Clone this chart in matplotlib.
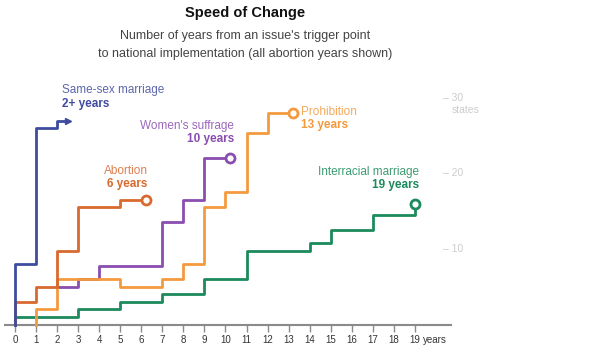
import matplotlib.pyplot as plt

# years since trigger point -> number of states
same_sex_years = [0, 0, 1, 2, 2.5]
same_sex_states = [0, 8, 26, 27, 27]

abortion_years = [0, 0, 1, 2, 3, 5, 6]
abortion_states = [0, 3, 5, 9.7, 15.6, 16.5, 16.5]

prohibition_years = [1, 1, 2, 5, 7, 8, 9, 10, 11, 12, 13]
prohibition_states = [0, 2, 6, 5, 6, 8, 15.5, 17.5, 25.3, 28, 28]

suffrage_years = [2, 3, 4, 7, 8, 9, 10]
suffrage_states = [5, 6, 7.7, 13.6, 16.5, 22, 22]

interracial_years = [0, 0, 3, 5, 7, 9, 11, 14, 15, 17, 19, 19]
interracial_states = [0, 1, 2, 3, 4, 6, 9.7, 10.8, 12.5, 14.5, 14.5, 16]

year_ticks = list(range(20))
state_ticks = [10, 20, 30]

plt.rcParams['font.family'] = ['Liberation Sans', 'DejaVu Sans']

BLUE = '#3f4c9e'
DARK_ORANGE = '#d8692f'
LIGHT_ORANGE = '#f49a3e'
PURPLE = '#8a4db0'
GREEN = '#1c8a5c'

fig = plt.figure(figsize=(5.9, 3.54), dpi=100)
# x: year 0 at px 15, 21.05 px/year ; y: 0 at px 324.5, 7.55 px/state
x0, sx = 15, 21.05
y0, sy = 324.5, 7.55
xmin, xmax = -0.5, 21.0
ymin, ymax = -1.5, 34
left = (x0 + xmin * sx) / 590
width = (xmax - xmin) * sx / 590
bottom = (354 - (y0 - ymin * sy)) / 354
height = (ymax - ymin) * sy / 354
ax = fig.add_axes([left, bottom, width, height])
ax.set_xlim(xmin, xmax)
ax.set_ylim(ymin, ymax)

lw = 2.0
ax.plot(interracial_years, interracial_states, drawstyle='steps-post', color=GREEN, lw=lw)
ax.plot(suffrage_years, suffrage_states, drawstyle='steps-post', color=PURPLE, lw=lw)
ax.plot(prohibition_years, prohibition_states, drawstyle='steps-post', color=LIGHT_ORANGE, lw=lw)
ax.plot(abortion_years, abortion_states, drawstyle='steps-post', color=DARK_ORANGE, lw=lw)
ax.plot(same_sex_years, same_sex_states, drawstyle='steps-post', color=BLUE, lw=lw)

# end markers
ax.plot(same_sex_years[-1], same_sex_states[-1], marker='>', color=BLUE, ms=5)
for xs, ys, c, off in [(abortion_years, abortion_states, DARK_ORANGE, 0.2),
                       (suffrage_years, suffrage_states, PURPLE, 0.2),
                       (prohibition_years, prohibition_states, LIGHT_ORANGE, 0.2),
                       (interracial_years, interracial_states, GREEN, 0)]:
    ax.plot(xs[-1] + off, ys[-1], marker='o', ms=6.5, mfc='white', mec=c, mew=2)

# x axis
for s in ax.spines.values():
    s.set_visible(False)
ax.axhline(0, xmin=0, xmax=(20.7 - xmin) / (xmax - xmin), color='#8a8a8a', lw=1.5, zorder=0)
ax.set_xticks(year_ticks)
ax.set_xticklabels([])
ax.tick_params(axis='x', length=5, width=1, color='#8a8a8a')
ax.spines['bottom'].set_position(('data', 0))
ax.set_yticks([])
for t in year_ticks:
    ax.text(t, -2.1, str(t), fontsize=7, color='#333333', ha='center', va='center')
ax.text(19.38, -2.1, 'years', fontsize=7, color='#333333', va='center', ha='left')

# right-hand state scale
for v in state_ticks:
    ax.text(20.35, v, '\u2013 ' + str(v), fontsize=7.5, color='#cccccc', va='center', ha='left')
ax.text(20.75, 30 - 0.9, 'states', fontsize=7.5, color='#cccccc', va='top', ha='left')

# series labels
def label(x, y, name, years, color, ha):
    ax.text(x, y, name, fontsize=8.5, color=color, ha=ha, va='baseline', alpha=0.85)
    ax.text(x, y - 1.75, years, fontsize=8.5, color=color, ha=ha, va='baseline', weight='bold')

label(2.25, 30.6, 'Same-sex marriage', '2+ years', BLUE, 'left')
label(10.4, 25.9, "Women's suffrage", '10 years', PURPLE, 'right')
label(6.3, 20.0, 'Abortion', '6 years', DARK_ORANGE, 'right')
label(13.6, 27.8, 'Prohibition', '13 years', LIGHT_ORANGE, 'left')
label(19.2, 19.8, 'Interracial marriage', '19 years', GREEN, 'right')

fig.text(245 / 590, 1 - 13 / 354, 'Speed of Change', fontsize=10.5, weight='bold',
         ha='center', va='center', color='#111111')
fig.text(245 / 590, 1 - 36.5 / 354, "Number of years from an issue's trigger point",
         fontsize=9, ha='center', va='center', color='#444444')
fig.text(245 / 590, 1 - 53.5 / 354, 'to national implementation (all abortion years shown)',
         fontsize=9, ha='center', va='center', color='#444444')

fig.savefig('out.png', dpi=100, facecolor='white')
